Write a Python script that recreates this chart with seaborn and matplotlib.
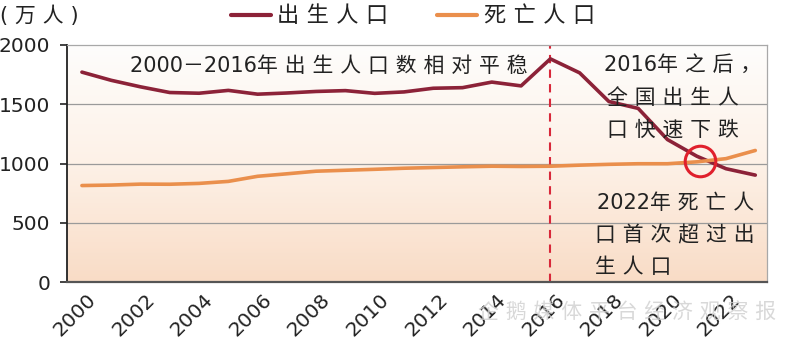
import numpy as np
import pandas as pd
import matplotlib
matplotlib.use("Agg")
import matplotlib.pyplot as plt
import matplotlib.colors as mcolors
import matplotlib.transforms as mtrans
from matplotlib.lines import Line2D
import seaborn as sns

years = list(range(2000, 2024))
births = [1771, 1702, 1647, 1599, 1593, 1617, 1585, 1595, 1608, 1615, 1592, 1604,
          1635, 1640, 1687, 1655, 1883, 1765, 1523, 1465, 1202, 1062, 956, 902]
deaths = [814, 818, 826, 825, 832, 849, 892, 913, 935, 943, 951, 960,
          966, 972, 977, 975, 977, 986, 993, 998, 998, 1014, 1041, 1110]
series_names = ["出生人口", "死亡人口"]
yticks = [0, 500, 1000, 1500, 2000]
xticks = list(range(2000, 2023, 2))
crossing = (2021.1, 1017)

sns.set_theme(style="white")
plt.rcParams["font.family"] = ["DejaVu Sans", "Noto Sans CJK SC"]
plt.rcParams["axes.unicode_minus"] = False

SP = "\u2004"


def spaced(s):
    out = ""
    for i, ch in enumerate(s):
        out += ch
        if i < len(s) - 1:
            nxt = s[i + 1]
            if ord(ch) > 0x2E00 and ord(nxt) > 0x2E00 and ch != "－" and nxt != "－":
                out += SP
    return out


df = pd.DataFrame({
    "year": years * 2,
    "value": births + deaths,
    "series": [series_names[0]] * len(years) + [series_names[1]] * len(years),
})

W, H = 800, 341
fig = plt.figure(figsize=(W / 100, H / 100), dpi=100)
fig.patch.set_facecolor("white")
ax = fig.add_axes([67 / W, 1 - 282 / H, (767 - 67) / W, (282 - 45) / H])

# gradient background
cmap = mcolors.LinearSegmentedColormap.from_list("bg", ["#fefdfc", "#fdf1e7", "#f9dcc6"])
grad = np.linspace(0, 1, 256).reshape(-1, 1)
ax.imshow(grad, extent=[0, 1, 0, 1], transform=ax.transAxes, cmap=cmap,
          aspect="auto", origin="upper", zorder=0)

palette = {series_names[0]: "#8c2238", series_names[1]: "#ea8f4c"}
sns.lineplot(data=df, x="year", y="value", hue="series", palette=palette,
             linewidth=2.6, ax=ax, legend=False, zorder=3)

ax.set_xlim(1999.49, 2023.4)
ax.set_ylim(0, 2000)
ax.set_yticks(yticks)
ax.set_xticks(xticks)
ax.set_xlabel("")
ax.set_ylabel("")
for v in [500, 1000, 1500]:
    ax.axhline(v, color="#9a9a9a", linewidth=0.9, zorder=1)

for s in ["top", "right"]:
    ax.spines[s].set_color("#a8a8a8")
    ax.spines[s].set_linewidth(0.9)
ax.spines["left"].set_color("#222222")
ax.spines["left"].set_linewidth(1.3)
ax.spines["bottom"].set_color("#555555")
ax.spines["bottom"].set_linewidth(1.6)

ax.tick_params(axis="y", which="both", left=True, length=5, width=1.2,
               color="#222222", labelsize=14.5, pad=7, labelcolor="#222222")
ax.tick_params(axis="x", bottom=False, labelsize=14.5, labelcolor="#222222", pad=0)

offset = mtrans.ScaledTranslation(18 / 100, 0 / 100, fig.dpi_scale_trans)
for lab in ax.get_xticklabels():
    lab.set_rotation(45)
    lab.set_ha("right")
    lab.set_va("top")
    lab.set_transform(lab.get_transform() + offset)

# dashed line at 2016
ax.axvline(2016, color="#d8283a", linestyle=(0, (4, 3)), linewidth=1.5, zorder=2)

# red circle at crossing
ax.plot([crossing[0]], [crossing[1]], marker="o", markersize=22, markerfacecolor="none",
        markeredgecolor="#e0202c", markeredgewidth=2.2, zorder=4)

# legend
handles = [Line2D([0], [0], color=palette[n], linewidth=3) for n in series_names]
fig.legend(handles, [spaced(n) for n in series_names], loc="center",
           bbox_to_anchor=(413 / W, 1 - 16 / H), ncol=2, frameon=False,
           fontsize=16, handlelength=1.8, handletextpad=0.3, columnspacing=2.2,
           labelcolor="#222222")


def ftext(x, y, s, **kw):
    kw.setdefault("fontsize", 15)
    kw.setdefault("color", "#222222")
    kw.setdefault("va", "center")
    kw.setdefault("ha", "left")
    fig.text(x / W, 1 - y / H, s, **kw)


ftext(0, 16, "(" + SP + "万" + SP + "人" + SP + ")", fontsize=15)
ftext(130, 66, spaced("2000－2016年出生人口数相对平稳"))
ftext(604, 65, spaced("2016年之后，"))
ftext(607, 98, spaced("全国出生人"))
ftext(607, 130, spaced("口快速下跌"))
ftext(597, 203, spaced("2022年死亡人"))
ftext(595, 235, spaced("口首次超过出"))
ftext(595, 267, spaced("生人口"))

# watermark
ftext(478, 313, spaced("企鹅媒体平台") + " " + spaced("经济观察报"), color="#cfcfcf", alpha=0.8)

fig.savefig("out.png", dpi=100, facecolor="white")
